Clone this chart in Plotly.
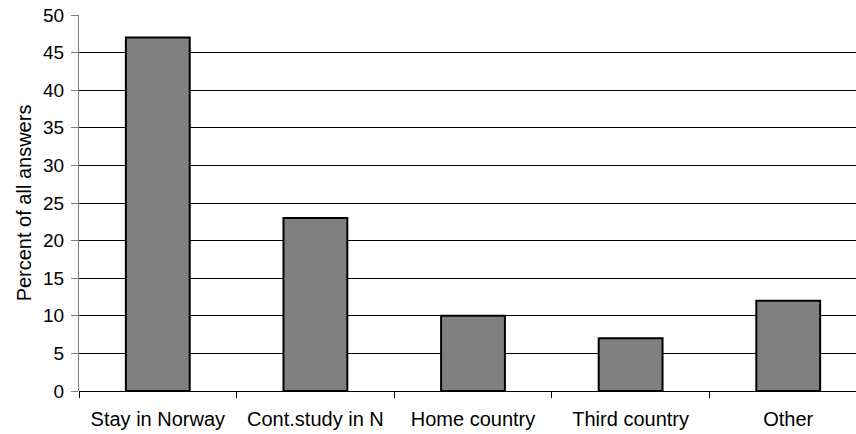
import plotly.graph_objects as go

categories = ["Stay in Norway", "Cont.study in N", "Home country", "Third country", "Other"]
values = [47, 23, 10, 7, 12]
y_ticks = [0, 5, 10, 15, 20, 25, 30, 35, 40, 45, 50]

fig = go.Figure()
fig.add_trace(go.Bar(
    x=categories, y=values,
    width=0.405,
    marker=dict(color="#808080", line=dict(color="#000000", width=2)),
))

font = dict(family="Liberation Sans, Arial, sans-serif", size=20, color="#000000")
tfont = dict(family="Liberation Sans, Arial, sans-serif", size=19, color="#000000")

fig.update_layout(
    width=856, height=434,
    margin=dict(l=79, r=0, t=15, b=43),
    paper_bgcolor="white", plot_bgcolor="white",
    font=font,
    showlegend=False,
    xaxis=dict(
        type="category",
        range=[-0.5, 4.43],
        tickson="boundaries",
        ticks="outside", ticklen=6, tickcolor="#000000",
        showgrid=False,
        showline=False,
        zeroline=False,
        ticklabelstandoff=14,
        ticklabeloverflow="allow",
        tickfont=font,
        automargin=False,
    ),
    yaxis=dict(
        range=[0, 50],
        tickvals=y_ticks,
        ticks="outside", ticklen=7, tickcolor="#808080",
        showgrid=True, gridcolor="#000000", gridwidth=1,
        showline=True, linecolor="#808080", linewidth=1,
        zeroline=True, zerolinecolor="#000000", zerolinewidth=1,
        title=dict(text="Percent of all answers", font=font, standoff=6),
        tickfont=tfont,
        ticklabelstandoff=3,
        ticklabeloverflow="allow",
        automargin=False,
    ),
)

fig.write_html("out.html", config={"displayModeBar": False},
               post_script="document.body.style.margin='0';")
